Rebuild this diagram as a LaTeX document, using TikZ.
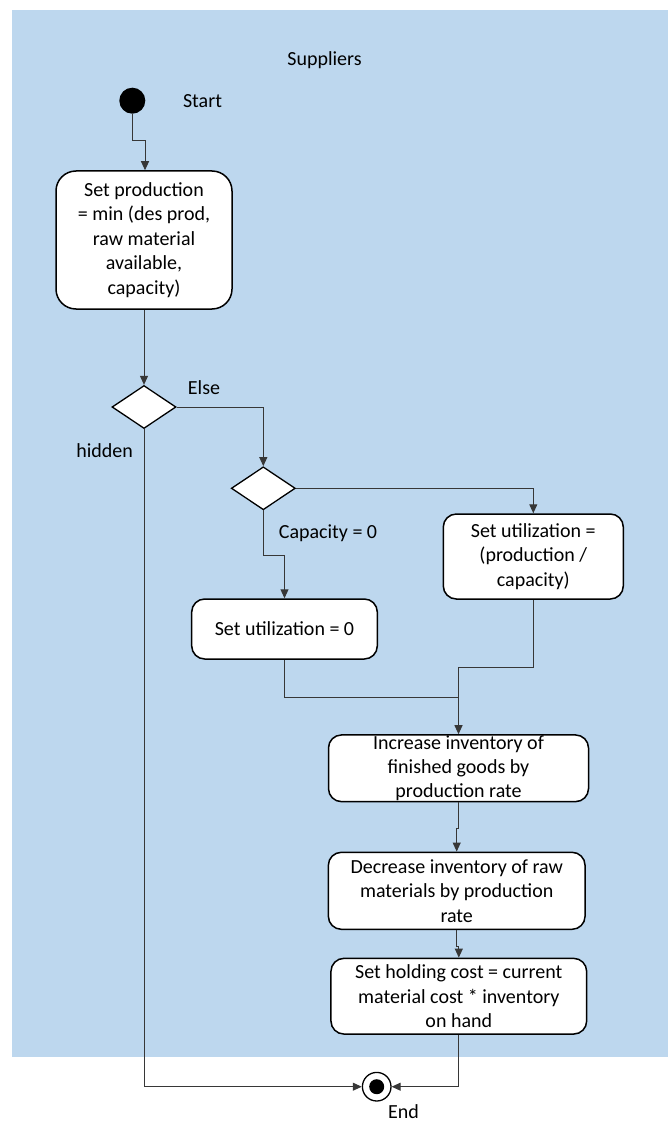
\documentclass[tikz,border=0pt]{standalone}
\usepackage{fontspec}
\setmainfont{Carlito}
\usetikzlibrary{arrows.meta,shapes.geometric}
\definecolor{lane}{RGB}{189,215,238}
\definecolor{ln}{RGB}{55,55,55}
\begin{document}
\begin{tikzpicture}[x=1pt,y=-1pt,
  every node/.style={font=\fontsize{20}{24.4}\selectfont},
  act/.style={draw=black, line width=1.5pt, fill=white, rounded corners=#1, inner sep=0pt, align=center},
  act/.default=13pt,
  dec/.style={draw=black, line width=1.3pt, fill=white, diamond, inner sep=0pt, minimum width=64pt, minimum height=43pt},
  lbl/.style={inner sep=0pt},
  flow/.style={draw=ln, line width=1pt, -{Triangle[length=9pt,width=8pt]}},
  link/.style={draw=ln, line width=1pt}]
\useasboundingbox (0,0) rectangle (668,1126);
\fill[lane] (12,10) rectangle (668,1057);

\node[lbl] (sup) at (324.5,60) {Suppliers};
\node[circle, fill=black, minimum size=26pt, inner sep=0pt] (start) at (132.3,100.7) {};
\node[lbl] (startl) at (202.5,100.7) {Start};
\node[act=20pt, minimum width=176pt, minimum height=138pt] (b1) at (144,240) {Set production\\= min (des prod,\\raw material\\available,\\capacity)};
\node[dec] (d1) at (144,407) {};
\node[lbl] (else) at (204,388) {Else};
\node[lbl] (hid) at (104.6,450.7) {hidden};
\node[dec] (d2) at (263.3,488.3) {};
\node[lbl] (cap) at (328,533.3) {Capacity = 0};
\node[act, minimum width=180pt, minimum height=85pt] (b3) at (533.3,556.5) {Set utilization =\\(production /\\capacity)};
\node[act, minimum width=185.6pt, minimum height=60pt] (b2) at (284.5,629) {Set utilization = 0};
\node[act, minimum width=260pt, minimum height=66.7pt] (b4) at (458.5,768.3) {Increase inventory of\\finished goods by\\production rate};
\node[act, minimum width=256.7pt, minimum height=77pt] (b5) at (456.7,890.8) {Decrease inventory of raw\\materials by production\\rate};
\node[act, minimum width=255.7pt, minimum height=75.7pt] (b6) at (458.8,996.2) {Set holding cost = current\\material cost * inventory\\on hand};
\node[circle, draw=black, line width=1.3pt, fill=white, minimum size=28.6pt, inner sep=0pt] (end) at (376.7,1086.7) {};
\fill[black] (end.center) circle (7.5pt);
\node[lbl] (endl) at (403.5,1112) {End};

\coordinate (jn) at (458.5,697.7);

\draw[flow] (start.south) -- ++(0,27) -| ([xshift=1pt]b1.north);
\draw[flow] (b1.south) -- (d1.north);
\draw[flow] (d1.east) -| (d2.north);
\draw[flow] (d2.east) -| (b3.north);
\draw[flow] (d2.south) -- ++(0,45) -| (b2.north);
\draw[flow] (b3.south) -- ++(0,68) -| (b4.north);
\draw[link] (b2.south) |- (jn);
\draw[flow] (b4.south) -- ++(0,26) -| (b5.north);
\draw[flow] (b5.south) -- ++(0,16) -| (b6.north);
\draw[flow] (b6.south) |- (end.east);
\draw[flow] (d1.south) |- (end.west);
\end{tikzpicture}
\end{document}
